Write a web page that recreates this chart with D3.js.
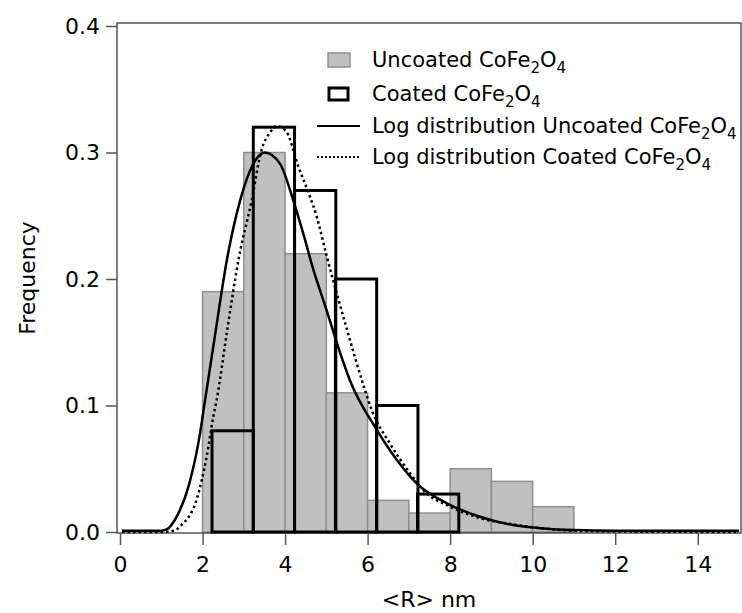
<!DOCTYPE html>
<html>
<head>
<meta charset="utf-8">
<script src="https://cdn.jsdelivr.net/npm/d3@7"></script>
<style>
  body { margin: 0; background: #fff; }
  text { font-family: "DejaVu Sans", sans-serif; fill: #000; }
</style>
</head>
<body>
<div id="chart"></div>
<script>
// histogram bins (nm) and frequencies
const uncoatedBins = [2, 3, 4, 5, 6, 7, 8, 9, 10];
const uncoatedFreq = [0.19, 0.30, 0.22, 0.11, 0.025, 0.015, 0.05, 0.04, 0.02];

const coatedBins = [2.23, 3.23, 4.23, 5.22, 6.22, 7.21];
const coatedFreq = [0.08, 0.32, 0.27, 0.20, 0.10, 0.03];
const binWidth = 1;

// log-normal fits
const logUncoatedX = [0.05, 0.5, 1.0, 1.13, 1.37, 1.66, 1.94, 2.06, 2.3, 2.59, 2.91, 3.23, 3.51, 3.88, 4.2, 4.44, 4.68, 5.0, 5.3, 5.57, 6.22, 6.71, 7.19, 7.92, 8.72, 9.53, 10.2, 11, 12, 15];
const logUncoatedY = [0.001, 0.001, 0.001, 0.002, 0.012, 0.036, 0.078, 0.104, 0.155, 0.215, 0.262, 0.291, 0.300, 0.291, 0.262, 0.236, 0.208, 0.176, 0.145, 0.12, 0.081, 0.057, 0.0385, 0.0227, 0.0121, 0.0055, 0.003, 0.0015, 0.001, 0.001];

const logCoatedX = [0.05, 1.0, 1.3, 1.49, 1.86, 2.10, 2.26, 2.34, 2.6, 2.87, 3.19, 3.43, 3.64, 3.81, 4.04, 4.32, 4.57, 4.77, 5.01, 5.5, 5.9, 6.1, 6.54, 7.03, 7.35, 8.0, 8.72, 9.53, 10.5, 11.5, 15];
const logCoatedY = [0.0, 0.0, 0.001, 0.0055, 0.026, 0.0595, 0.091, 0.104, 0.16, 0.215, 0.262, 0.302, 0.316, 0.321, 0.316, 0.289, 0.268, 0.249, 0.218, 0.16, 0.116, 0.0964, 0.070, 0.0464, 0.033, 0.02, 0.011, 0.006, 0.002, 0.0005, 0.0];

const xTicks = [0, 2, 4, 6, 8, 10, 12, 14];
const yTicks = [0.0, 0.1, 0.2, 0.3, 0.4];

const legendItems = ["Uncoated CoFe", "Coated CoFe", "Log distribution Uncoated CoFe", "Log distribution Coated CoFe"];

const width = 742;
const height = 613;
const frame = { left: 117, top: 23, right: 741, bottom: 533 };

const svg = d3.select("#chart")
  .append("svg")
  .attr("width", width)
  .attr("height", height);

const x = d3.scaleLinear().domain([0, 15]).range([120, 739]);
const y = d3.scaleLinear().domain([0, 0.4]).range([532, 26]);

// uncoated bars (grey filled)
svg.selectAll("rect.unc")
  .data(uncoatedBins)
  .enter()
  .append("rect")
  .attr("class", "unc")
  .attr("x", d => x(d))
  .attr("width", d => x(d + binWidth) - x(d))
  .attr("y", (d, i) => y(uncoatedFreq[i]))
  .attr("height", (d, i) => y(0) - y(uncoatedFreq[i]))
  .style("fill", "#c0c0c0")
  .style("stroke", "#8e8e8e")
  .style("stroke-width", 1.5);

// coated bars (black outline)
svg.selectAll("rect.coa")
  .data(coatedBins)
  .enter()
  .append("rect")
  .attr("class", "coa")
  .attr("x", d => x(d))
  .attr("width", d => x(d + binWidth) - x(d))
  .attr("y", (d, i) => y(coatedFreq[i]))
  .attr("height", (d, i) => y(0) - y(coatedFreq[i]))
  .style("fill", "none")
  .style("stroke", "#000")
  .style("stroke-width", 3);

const line = d3.line()
  .x(d => x(d[0]))
  .y(d => y(d[1]))
  .curve(d3.curveMonotoneX);

svg.append("path")
  .datum(d3.zip(logCoatedX, logCoatedY))
  .attr("d", line)
  .style("fill", "none")
  .style("stroke", "#000")
  .style("stroke-width", 2.5)
  .style("stroke-dasharray", "2.5,3");

svg.append("path")
  .datum(d3.zip(logUncoatedX, logUncoatedY))
  .attr("d", line)
  .style("fill", "none")
  .style("stroke", "#000")
  .style("stroke-width", 2.5);

// frame
svg.append("rect")
  .attr("x", frame.left)
  .attr("y", frame.top)
  .attr("width", frame.right - frame.left)
  .attr("height", frame.bottom - frame.top)
  .style("fill", "none")
  .style("stroke", "#000")
  .style("stroke-width", 1);

// axes
const yAxis = svg.append("g")
  .attr("transform", `translate(${frame.left},0)`)
  .call(d3.axisLeft(y).tickValues(yTicks).tickFormat(d3.format(".1f")).tickSize(11).tickPadding(6));

const xAxis = svg.append("g")
  .attr("transform", `translate(0,${frame.bottom})`)
  .call(d3.axisBottom(x).tickValues(xTicks).tickSize(12).tickPadding(11));

[xAxis, yAxis].forEach(g => {
  g.select(".domain").remove();
  g.selectAll(".tick line").style("stroke", "#555").style("stroke-width", 1.5);
  g.selectAll(".tick text").style("font-size", "22px").style("font-family", "DejaVu Sans, sans-serif").attr("fill", "#000");
});

svg.append("text")
  .attr("x", (frame.left + frame.right) / 2)
  .attr("y", 607)
  .attr("text-anchor", "middle")
  .style("font-size", "22px")
  .text("<R> nm");

svg.append("text")
  .attr("transform", "translate(35,278) rotate(-90)")
  .attr("text-anchor", "middle")
  .style("font-size", "22px")
  .text("Frequency");

// legend
const legendY = [60, 94, 126, 157];
const legend = svg.append("g");

legendItems.forEach((label, i) => {
  const cy = legendY[i];
  if (i === 0) {
    legend.append("rect").attr("x", 328).attr("y", cy - 7).attr("width", 22).attr("height", 14)
      .style("fill", "#c0c0c0").style("stroke", "#8e8e8e").style("stroke-width", 1.5);
  } else if (i === 1) {
    legend.append("rect").attr("x", 329).attr("y", cy - 6).attr("width", 19).attr("height", 12)
      .style("fill", "none").style("stroke", "#000").style("stroke-width", 3);
  } else {
    legend.append("line").attr("x1", 317).attr("x2", 360).attr("y1", cy).attr("y2", cy)
      .style("stroke", "#000").style("stroke-width", 2)
      .style("stroke-dasharray", i === 3 ? "2,2" : null);
  }
  const t = legend.append("text")
    .attr("x", 372)
    .attr("y", cy + 7)
    .style("font-size", "21px");
  t.append("tspan").text(label);
  t.append("tspan").attr("dy", 6).style("font-size", "15px").text("2");
  t.append("tspan").attr("dy", -6).text("O");
  t.append("tspan").attr("dy", 6).style("font-size", "15px").text("4");
});
</script>
</body>
</html>
